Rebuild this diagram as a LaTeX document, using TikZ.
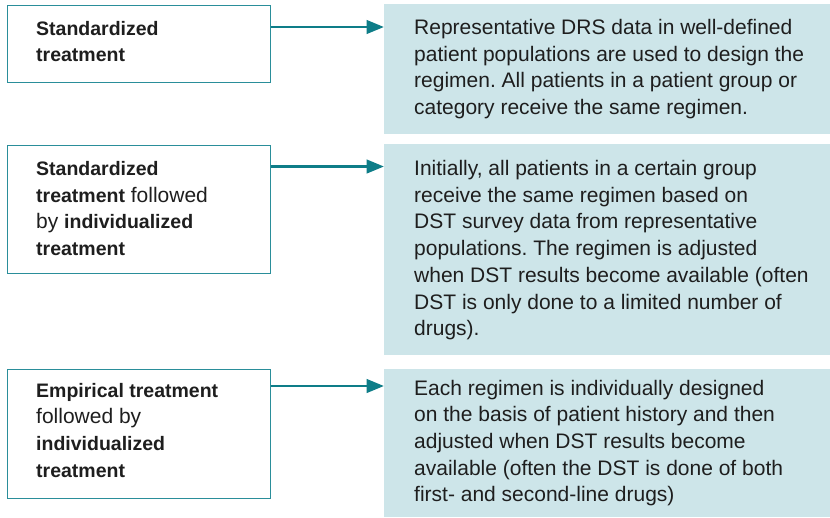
\documentclass[tikz,border=0pt]{standalone}
\usepackage{fontspec}
\setmainfont{Liberation Sans}
\usetikzlibrary{arrows.meta}
\definecolor{boxline}{HTML}{2A8E9A}
\definecolor{arrowc}{HTML}{0E7D88}
\definecolor{fillc}{HTML}{CDE5E9}
\definecolor{txtc}{HTML}{1E1E1E}
\frenchspacing
\newcommand{\regtxt}{\fontsize{21}{26.7}\selectfont}
\newcommand{\bdtxt}[1]{{\fontsize{19.5}{26.7}\selectfont\bfseries #1}}
\newcommand{\lines}[1]{\parbox[t]{420pt}{\regtxt\raggedright #1}}
\tikzset{
  leftbox/.style={draw=boxline, line width=1.4pt, fill=white, inner sep=0pt, anchor=north west},
  rightbox/.style={fill=fillc, draw=none, inner sep=0pt, anchor=north west},
  boxtext/.style={anchor=base west, inner sep=0pt, text=txtc},
  conn/.style={draw=arrowc, line width=2.9pt, -{Triangle[length=17.5pt,width=13.5pt]}},
}
\begin{document}
\begin{tikzpicture}[x=1pt, y=-1pt]
\useasboundingbox (0,0) rectangle (830,517);
% left boxes
\node[leftbox, minimum width=263.5pt, minimum height=77pt] (l1) at (6.5,5) {};
\node[leftbox, minimum width=263.5pt, minimum height=127.5pt] (l2) at (6.5,145) {};
\node[leftbox, minimum width=263.5pt, minimum height=128.5pt] (l3) at (6.5,369) {};
% right boxes
\node[rightbox, minimum width=446pt, minimum height=129.5pt] (r1) at (384,4) {};
\node[rightbox, minimum width=446pt, minimum height=211pt] (r2) at (384,144) {};
\node[rightbox, minimum width=446pt, minimum height=148pt] (r3) at (384,369) {};
% left texts
\node[boxtext] (t1) at (36,35) {\lines{\bdtxt{Standardized}\\\bdtxt{treatment}}};
\node[boxtext] (t2) at (36,175.5) {\lines{\bdtxt{Standardized}\\\bdtxt{treatment} followed\\by \bdtxt{individualized}\\\bdtxt{treatment}}};
\node[boxtext] (t3) at (36,397) {\lines{\bdtxt{Empirical treatment}\\followed by\\\bdtxt{individualized}\\\bdtxt{treatment}}};
% right texts
\node[boxtext] (d1) at (414,34.5) {\lines{Representative DRS data in well-defined\\patient populations are used to design the\\regimen. All patients in a patient group or\\category receive the same regimen.}};
\node[boxtext] (d2) at (414,175.5) {\lines{Initially, all patients in a certain group\\receive the same regimen based on\\DST survey data from representative\\populations. The regimen is adjusted\\when DST results become available (often\\DST is only done to a limited number of\\drugs).}};
\node[boxtext] (d3) at (414,395) {\lines{Each regimen is individually designed\\on the basis of patient history and then\\adjusted when DST results become\\available (often the DST is done of both\\first- and second-line drugs)}};
% connectors
\coordinate (a1) at (l1.north east |- 0,27);
\coordinate (a2) at (l2.north east |- 0,166.5);
\coordinate (a3) at (l3.north east |- 0,386);
\draw[conn] (a1) -- (a1 -| r1.west);
\draw[conn] (a2) -- (a2 -| r2.west);
\draw[conn] (a3) -- (a3 -| r3.west);
\end{tikzpicture}
\end{document}
